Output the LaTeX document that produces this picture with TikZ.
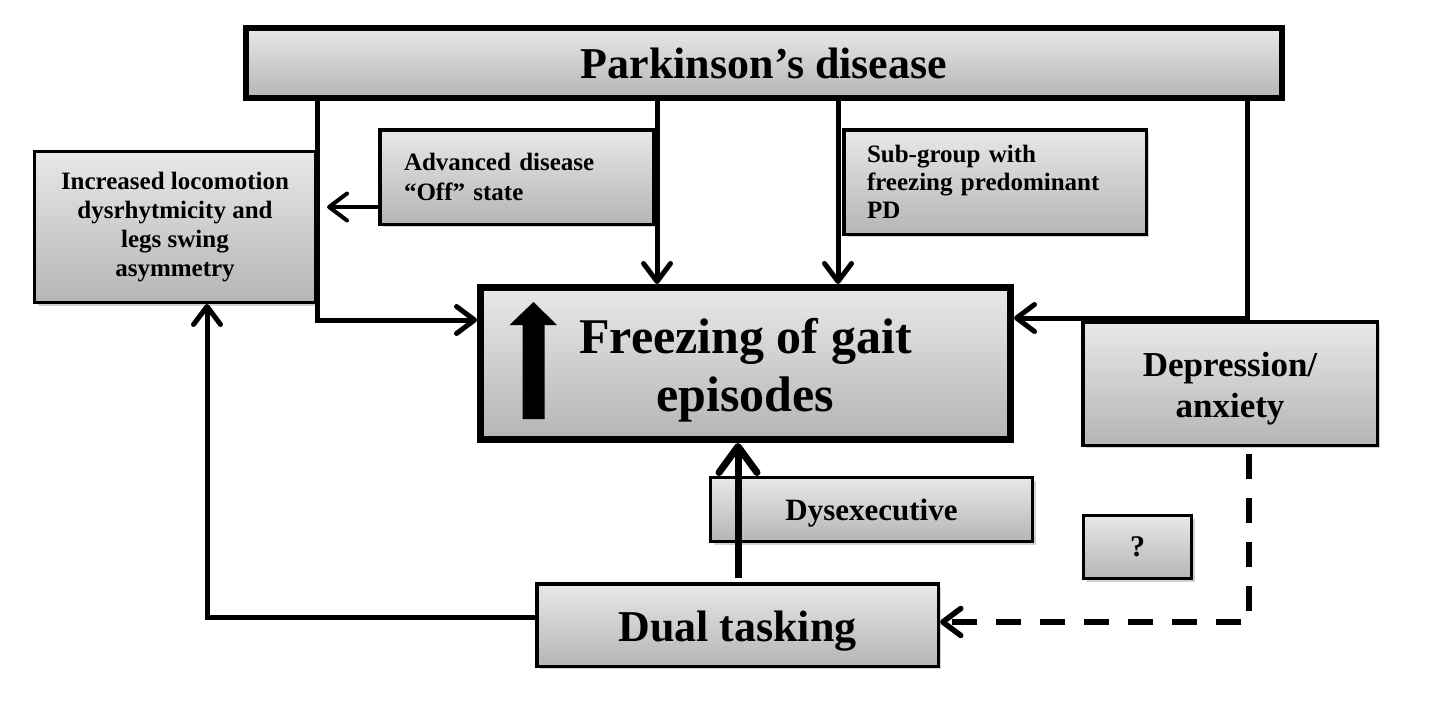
\documentclass[tikz,border=0pt]{standalone}
\usepackage{fontspec}
\setmainfont{Liberation Serif}
\usetikzlibrary{arrows.meta,shadows,calc}
\tikzset{
  box/.style={draw=black, rectangle, top color=black!9, bottom color=black!29,
    drop shadow={shadow xshift=3pt,shadow yshift=-3pt,opacity=0.35},
    inner sep=0pt, align=center},
  boxtext/.style={inner sep=0pt, align=center},
  conn/.style={line width=5pt, -{Straight Barb[length=18pt,width=27pt,round]}},
  bigconn/.style={line width=7pt, -{Straight Barb[length=26pt,width=38pt,round]}},
}
\begin{document}
\begin{tikzpicture}[x=1pt,y=1pt]
\useasboundingbox (0,-717) rectangle (1450,0);
\fill[white] (0,-717) rectangle (1450,0);

\node[box, line width=6pt, minimum width=1036pt, minimum height=70pt,
  font=\bfseries\fontsize{44}{52}\selectfont] (pd) at (764,-63) {Parkinson’s disease};
\node[box, line width=3pt, minimum width=281pt, minimum height=151pt,
  font=\bfseries\fontsize{25}{29}\selectfont] (loc) at (175,-227)
  {Increased locomotion\\dysrhytmicity and\\legs swing\\asymmetry};
\node[box, line width=3.5pt, minimum width=273.5pt, minimum height=94.5pt, text width=225pt, align=left,
  font=\bfseries\fontsize{25}{30}\selectfont] (adv) at (516.5,-177)
  {Advanced disease\\“Off” state};
\node[box, line width=3.5pt, minimum width=302.5pt, minimum height=104.5pt, text width=256pt, align=left,
  font=\bfseries\fontsize{25}{28}\selectfont] (sub) at (995,-182)
  {Sub-group with\\freezing predominant\\PD};
\node[box, line width=7pt, minimum width=530pt, minimum height=152pt] (freeze) at (745.5,-363.5) {};
\node[boxtext, font=\bfseries\fontsize{50}{58}\selectfont] (freezetext) at ($(freeze.center)+(0,-7)$)
  {Freezing of gait\\episodes};
\node[box, line width=3.5pt, minimum width=294.5pt, minimum height=123.5pt] (dep) at (1230,-383.5) {};
\node[boxtext, font=\bfseries\fontsize{35}{41}\selectfont] (deptext) at ($(dep.center)+(0,-5)$)
  {Depression/\\anxiety};
\node[box, line width=3pt, minimum width=322pt, minimum height=64pt] (dys) at (871.5,-509.5) {};
\node[boxtext, font=\bfseries\fontsize{31}{36}\selectfont] (dystext) at ($(dys.center)+(0,-4)$) {Dysexecutive};
\node[box, line width=3pt, minimum width=108pt, minimum height=63pt,
  font=\bfseries\fontsize{30}{36}\selectfont] (q) at (1137.5,-547) {?};
\node[box, line width=3.5pt, minimum width=401.5pt, minimum height=82.5pt] (dual) at (737.5,-625) {};
\node[boxtext, font=\bfseries\fontsize{44}{52}\selectfont] (dualtext) at ($(dual.center)+(0,-6)$) {Dual tasking};

% big up arrow inside the freezing box
\fill[black] (522.5,-419) -- (522.5,-325) -- (509.5,-325) -- (533.5,-302) -- (557,-325)
  -- (544.5,-325) -- (544.5,-419) -- cycle;

\coordinate (x657) at (657,0);
\coordinate (x838) at (838,0);
\coordinate (x1247) at (1247,0);
\coordinate (x738) at (738,0);
\coordinate (x207) at (207,0);
\coordinate (x1249) at (1249,0);
\coordinate (y207) at (0,-207);
\coordinate (y320) at (0,-320);
\coordinate (y318) at (0,-318);
\coordinate (y617) at (0,-617);
\coordinate (y622) at (0,-622);

\draw[conn] (pd.south -| loc.east) -- (loc.east |- y320) -- (freeze.west |- y320);
\draw[conn] (pd.south -| x657) -- (freeze.north -| x657);
\draw[conn, line width=4pt, shorten >=10pt] (adv.west |- y207) -- (loc.east |- y207);
\draw[conn] (pd.south -| x838) -- (freeze.north -| x838);
\draw[conn] (pd.south -| x1247) |- (freeze.east |- y318);
\draw[bigconn, shorten <=4pt] (dual.north -| x738) -- (freeze.south -| x738);
\draw[conn] (dual.west |- y617) -| (loc.south -| x207);
\draw[conn, line width=5.5pt, dash pattern=on 25pt off 19pt, shorten <=7pt]
  (dep.south -| x1249) |- (dual.east |- y622);
\end{tikzpicture}
\end{document}
